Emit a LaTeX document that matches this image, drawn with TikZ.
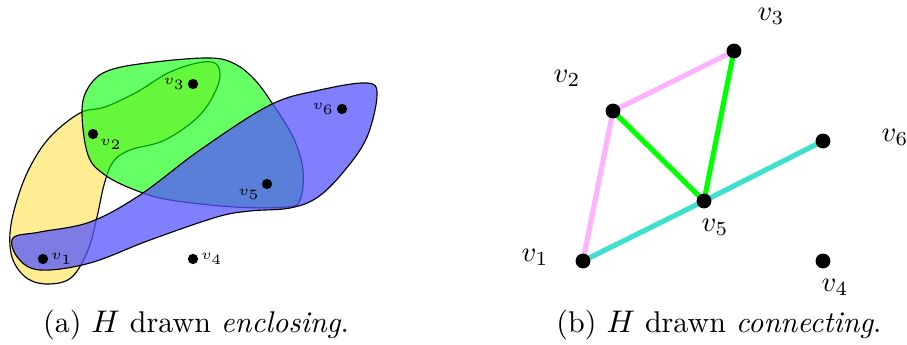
\documentclass[tikz,border=0pt]{standalone}
\usetikzlibrary{positioning}
\pgfdeclarelayer{background}
\pgfsetlayers{background,main}
\definecolor{hyperYellow}{HTML}{FFE14D}
\definecolor{hyperBlue}{HTML}{5555FF}
\definecolor{edgePink}{HTML}{FFB3FF}
\definecolor{edgeGreen}{HTML}{00FF00}
\definecolor{edgeTeal}{HTML}{40E0D0}

\begin{document}
\begin{tikzpicture}[x=0.35pt, y=-0.35pt,
  hull/.style={draw=black, line width=0.4pt, fill opacity=0.55},
  smalldot/.style={circle, fill=black, minimum size=3.6pt, inner sep=0pt},
  bigdot/.style={circle, fill=black, minimum size=5.2pt, inner sep=0pt},
  smalllbl/.style={font=\tiny, inner sep=0.6pt, label distance=0pt},
  vlabel/.style={inner sep=1pt},
  caption/.style={font=\fontsize{10.5}{12.6}\selectfont},
  hedge/.style={line width=1.8pt},
]
\useasboundingbox (0,0) rectangle (907,345);

% (a) enclosing
\path[hull, fill=hyperYellow, fill opacity=0.6] plot[smooth cycle, tension=0.6] coordinates {
  (80,113) (105,107) (137,92) (170,72) (203,62) (218,66) (218,85) (200,115) (165,140)
  (130,150) (113,162) (104,185) (97,217) (88,250) (72,277) (50,284) (28,279) (13,260)
  (10,233) (17,200) (30,167) (50,137)};
\path[hull, fill=edgeGreen, fill opacity=0.6] plot[smooth cycle, tension=0.6] coordinates {
  (82,110) (90,85) (110,70) (155,62) (210,58) (235,64) (255,80) (272,103) (293,137)
  (303,170) (300,200) (287,207) (235,207) (170,200) (135,190) (105,175) (88,155)};
\path[hull, fill=hyperBlue, fill opacity=0.75] plot[smooth cycle, tension=0.6] coordinates {
  (13,238) (40,232) (90,222) (140,195) (200,150) (270,105) (320,90) (367,83) (377,95)
  (367,137) (345,170) (318,197) (290,208) (250,211) (217,217) (150,240) (90,263)
  (40,270) (18,258)};

\node[smalldot, label={[smalllbl]right:$v_1$}] (a1) at (43,259) {};
\node[smalldot, label={[smalllbl]-30:$v_2$}] (a2) at (93,134) {};
\node[smalldot, label={[smalllbl]left:$v_3$}] (a3) at (193,84) {};
\node[smalldot, label={[smalllbl]right:$v_4$}] (a4) at (193,259) {};
\node[smalldot, label={[smalllbl]-150:$v_5$}] (a5) at (267,184) {};
\node[smalldot, label={[smalllbl]left:$v_6$}] (a6) at (342,109) {};

\node[caption] (capa) at (196,325) {(a) $H$ drawn \emph{enclosing}.};

% (b) connecting
\node[bigdot] (b1) at (583,261) {};
\node[bigdot] (b2) at (613,111) {};
\node[bigdot] (b3) at (734,51) {};
\node[bigdot] (b4) at (823,261) {};
\node[bigdot] (b5) at (704,201) {};
\node[bigdot] (b6) at (823,141) {};

\begin{pgfonlayer}{background}
\draw[hedge, edgePink] (b1.center) -- (b2.center) -- (b3.center);
\draw[hedge, edgeGreen] (b2.center) -- (b5.center) -- (b3.center);
\draw[hedge, edgeTeal] (b1.center) -- (b5.center) -- (b6.center);
\end{pgfonlayer}

\node[vlabel] (l1) at (535,257) {$v_1$};
\node[vlabel] (l2) at (567,78) {$v_2$};
\node[vlabel] (l3) at (771,16) {$v_3$};
\node[vlabel] (l4) at (835,287) {$v_4$};
\node[vlabel] (l5) at (715,227) {$v_5$};
\node[vlabel] (l6) at (895,137) {$v_6$};

\node[caption] (capb) at (719,325) {(b) $H$ drawn \emph{connecting}.};
\end{tikzpicture}
\end{document}
